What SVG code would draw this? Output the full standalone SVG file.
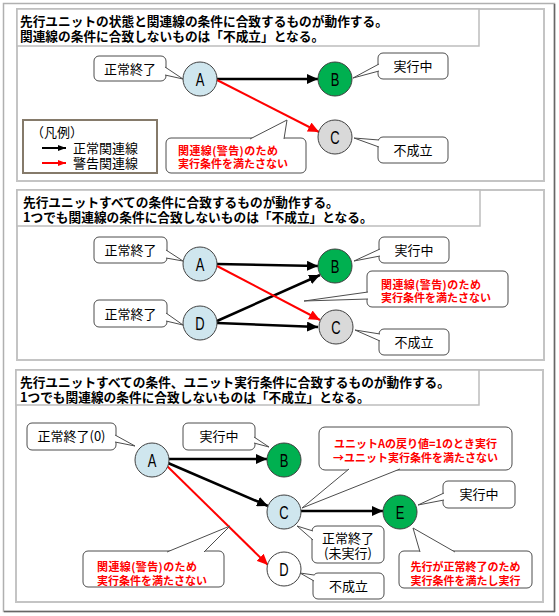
<svg xmlns="http://www.w3.org/2000/svg" width="559" height="616" viewBox="0 0 559 616">
<defs>
<style>
.frame{fill:#fff;stroke:#b0b0b0;stroke-width:1.5}
.panel{fill:#fff;stroke:#c4c4c4;stroke-width:2}
.tbox{fill:#fff;stroke:#bdbdbd;stroke-width:1.5}
.title{font-family:"Noto Sans CJK JP","Noto Sans CJK SC",sans-serif;font-size:12.7px;font-weight:bold;fill:#000}
.co{fill:#fff;stroke:#4d4d4d;stroke-width:1}
.sh{fill:none;stroke:#bbb;stroke-width:1.2}
.ct{font-family:"Noto Sans CJK JP",sans-serif;font-size:13px;fill:#000;text-anchor:middle}
.rt{font-family:"Noto Sans CJK JP",sans-serif;font-size:11px;font-weight:bold;fill:#ff0000}
.nd{stroke:#404040;stroke-width:1}
.blue{fill:#cfe6ee}.green{fill:#00b050}.gray{fill:#d9d9d9}.white{fill:#fff}
.lt{font-family:"Liberation Sans",Arial,sans-serif;font-size:18px;fill:#000;text-anchor:middle}
.blk{stroke:#000;stroke-width:2.5;fill:none}
.red{stroke:#ff0000;stroke-width:2;fill:none}
.lg{fill:#fff;stroke:#857a6a;stroke-width:2}
.lgt{font-family:"Noto Sans CJK JP",sans-serif;font-size:13px;fill:#000}
</style>
<marker id="ab" markerUnits="userSpaceOnUse" markerWidth="12" markerHeight="10" refX="11" refY="5" orient="auto"><path d="M0,0 L11,5 L0,10 z" fill="#000"/></marker>
<marker id="ar" markerUnits="userSpaceOnUse" markerWidth="12" markerHeight="10" refX="11" refY="5" orient="auto"><path d="M0,0 L11,5 L0,10 z" fill="#ff0000"/></marker>
<marker id="abs" markerUnits="userSpaceOnUse" markerWidth="8" markerHeight="6" refX="8" refY="3" orient="auto"><path d="M0,0 L8,3 L0,6 z" fill="#000"/></marker>
<marker id="ars" markerUnits="userSpaceOnUse" markerWidth="8" markerHeight="6" refX="8" refY="3" orient="auto"><path d="M0,0 L8,3 L0,6 z" fill="#ff0000"/></marker>
</defs>

<rect class="frame" x="3.5" y="3.5" width="551" height="608"/>
<line x1="554.5" y1="4" x2="554.5" y2="612" stroke="#666" stroke-width="1.5"/>
<line x1="4" y1="611.5" x2="555" y2="611.5" stroke="#666" stroke-width="1.5"/>

<!-- Panel 1 -->
<g id="panel1">
<rect class="panel" x="17" y="9" width="527" height="172"/>
<rect class="tbox" x="17" y="9" width="462" height="37"/>
<text class="title"><tspan x="20" y="26">先行ユニットの状態と関連線の条件に合致するものが動作する。</tspan><tspan x="20" y="41">関連線の条件に合致しないものは「不成立」となる。</tspan></text>
</g>
<g id="legend1">
<rect class="lg" x="23" y="120" width="134" height="53"/>
<text class="lgt"><tspan x="31" y="137">（凡例）</tspan><tspan x="73" y="153">正常関連線</tspan><tspan x="73" y="168">警告関連線</tspan></text>
<line x1="42" y1="148" x2="66" y2="148" stroke="#000" stroke-width="2" marker-end="url(#abs)"/>
<line x1="42" y1="163" x2="66" y2="163" stroke="#ff0000" stroke-width="2" marker-end="url(#ars)"/>
</g>
<g id="connectors1">
<line class="blk" x1="217" y1="79" x2="318" y2="79" marker-end="url(#ab)"/>
<line class="red" x1="217" y1="80" x2="319" y2="132" marker-end="url(#ar)"/>
</g>
<g id="p1-A"><circle class="nd blue" cx="200" cy="79" r="17"/><text class="lt" transform="translate(200,85.5) scale(0.72,1)">A</text></g>
<g id="p1-B"><circle class="nd green" cx="335" cy="79" r="17"/><text class="lt" transform="translate(335,85.5) scale(0.72,1)">B</text></g>
<g id="p1-C"><circle class="nd gray" cx="335" cy="137" r="17"/><text class="lt" transform="translate(335,143.5) scale(0.72,1)">C</text></g>
<g id="p1-co-A"><rect class="co" x="94" y="56" width="72" height="25" rx="5"/><path class="co" d="M165,67 L183,79 L165,75"/><text class="ct" x="130" y="73.5">正常終了</text></g>
<g id="p1-co-B"><rect class="co" x="378" y="53" width="70" height="26" rx="5"/><path class="co" d="M379,64 L353,78 L379,71"/><text class="ct" x="413" y="71">実行中</text></g>
<g id="p1-co-C"><rect class="co" x="378" y="137" width="70" height="26" rx="5"/><path class="co" d="M379,140 L354,138 L379,147"/><text class="ct" x="413" y="155">不成立</text></g>
<g id="p1-co-red"><rect class="co" x="166" y="138" width="140" height="35" rx="5"/><path class="co" d="M250,139 L287,120 L284,139"/><text class="rt"><tspan x="178" y="155" textLength="100">関連線(警告)のため</tspan><tspan x="178" y="168">実行条件を満たさない</tspan></text></g>

<!-- Panel 2 -->
<g id="panel2">
<rect class="panel" x="17" y="190" width="527" height="170"/>
<rect class="tbox" x="17" y="190" width="463" height="36"/>
<text class="title"><tspan x="23" y="207">先行ユニットすべての条件に合致するものが動作する。</tspan><tspan x="23" y="222">1つでも関連線の条件に合致しないものは「不成立」となる。</tspan></text>
</g>
<g id="connectors2">
<line class="blk" x1="217" y1="264" x2="318" y2="266" marker-end="url(#ab)"/>
<line class="blk" x1="217" y1="321" x2="320" y2="275" marker-end="url(#ab)"/>
<line class="blk" x1="217" y1="323" x2="318" y2="327" marker-end="url(#ab)"/>
<line class="red" x1="217" y1="266" x2="320" y2="320" marker-end="url(#ar)"/>
</g>
<g id="p2-A"><circle class="nd blue" cx="200" cy="264" r="17"/><text class="lt" transform="translate(200,270.5) scale(0.72,1)">A</text></g>
<g id="p2-B"><circle class="nd green" cx="335" cy="266" r="17"/><text class="lt" transform="translate(335,272.5) scale(0.72,1)">B</text></g>
<g id="p2-D"><circle class="nd blue" cx="200" cy="323" r="17"/><text class="lt" transform="translate(200,329.5) scale(0.72,1)">D</text></g>
<g id="p2-C"><circle class="nd gray" cx="336" cy="327" r="17"/><text class="lt" transform="translate(336,333.5) scale(0.72,1)">C</text></g>
<g id="p2-co-A"><rect class="co" x="94" y="237" width="73" height="26" rx="5"/><path class="co" d="M166,250 L183,261 L166,258"/><text class="ct" x="130.5" y="255">正常終了</text></g>
<g id="p2-co-D"><rect class="co" x="94" y="300" width="73" height="27" rx="5"/><path class="co" d="M166,313 L183,325 L166,321"/><text class="ct" x="130.5" y="318.5">正常終了</text></g>
<g id="p2-co-B"><rect class="co" x="379" y="237" width="70" height="26" rx="5"/><path class="co" d="M380,249 L354,261 L380,256"/><text class="ct" x="414" y="255">実行中</text></g>
<g id="p2-co-C"><rect class="co" x="379" y="329" width="70" height="26" rx="5"/><path class="co" d="M380,334 L355,330 L380,341"/><text class="ct" x="414" y="347">不成立</text></g>
<g id="p2-co-red"><rect class="co" x="367" y="271" width="141" height="36" rx="5"/><path class="co" d="M368,292 L304,301 L368,299"/><text class="rt"><tspan x="381" y="289" textLength="100">関連線(警告)のため</tspan><tspan x="381" y="302">実行条件を満たさない</tspan></text></g>

<!-- Panel 3 -->
<g id="panel3">
<rect class="panel" x="16" y="370" width="527" height="232"/>
<rect class="tbox" x="16" y="370" width="463" height="35"/>
<text class="title"><tspan x="20" y="387">先行ユニットすべての条件、ユニット実行条件に合致するものが動作する。</tspan><tspan x="20" y="402">1つでも関連線の条件に合致しないものは「不成立」となる。</tspan></text>
</g>
<g id="connectors3">
<line class="blk" x1="169" y1="459" x2="267" y2="459" marker-end="url(#ab)"/>
<line class="blk" x1="168" y1="463" x2="268" y2="506" marker-end="url(#ab)"/>
<line class="blk" x1="301" y1="511" x2="383" y2="511" marker-end="url(#ab)"/>
<line class="red" x1="167" y1="466" x2="268" y2="565" marker-end="url(#ar)"/>
</g>
<g id="p3-A"><circle class="nd blue" cx="152" cy="460" r="17"/><text class="lt" transform="translate(152,466.5) scale(0.72,1)">A</text></g>
<g id="p3-B"><circle class="nd green" cx="284" cy="460" r="17"/><text class="lt" transform="translate(284,466.5) scale(0.72,1)">B</text></g>
<g id="p3-C"><circle class="nd blue" cx="284" cy="512" r="17"/><text class="lt" transform="translate(284,518.5) scale(0.72,1)">C</text></g>
<g id="p3-E"><circle class="nd green" cx="400" cy="512" r="17"/><text class="lt" transform="translate(400,518.5) scale(0.72,1)">E</text></g>
<g id="p3-D"><circle class="nd white" cx="284" cy="569" r="17"/><text class="lt" transform="translate(284,575.5) scale(0.72,1)">D</text></g>
<g id="p3-co-A"><rect class="co" x="27" y="423" width="89" height="27" rx="5"/><path class="co" d="M115,435 L135,446 L115,442"/><text class="ct" x="71.5" y="441">正常終了(0)</text></g>
<g id="p3-co-B"><rect class="co" x="183" y="423" width="72" height="27" rx="5"/><path class="co" d="M254,437 L269,447 L254,443"/><text class="ct" x="219" y="441">実行中</text></g>
<g id="p3-co-red1"><rect class="co" x="319" y="427" width="193" height="43" rx="6"/><path class="co" d="M349,469 L302,508 L400,469"/><text class="rt" text-anchor="middle"><tspan x="415.5" y="448">ユニットAの戻り値=1のとき実行</tspan><tspan x="415.5" y="462">→ユニット実行条件を満たさない</tspan></text></g>
<g id="p3-co-E"><rect class="co" x="443" y="481" width="72" height="27" rx="5"/><path class="co" d="M444,493 L418,505 L444,500"/><text class="ct" x="479" y="499">実行中</text></g>
<g id="p3-co-C"><rect class="co" x="312" y="526" width="72" height="37" rx="5"/><path class="co" d="M313,531 L297,526 L313,540"/><text class="ct"><tspan x="348" y="543">正常終了</tspan><tspan x="348" y="558">(未実行)</tspan></text></g>
<g id="p3-co-D"><rect class="co" x="313" y="573" width="71" height="26" rx="5"/><path class="co" d="M314,575 L300,573 L314,581"/><text class="ct" x="348.5" y="591">不成立</text></g>
<g id="p3-co-red2"><rect class="co" x="399" y="551" width="133" height="37" rx="5"/><path class="co" d="M420,552 L413,528 L455,552"/><text class="rt" text-anchor="middle"><tspan x="465.5" y="571">先行が正常終了のため</tspan><tspan x="465.5" y="585">実行条件を満たし実行</tspan></text></g>
<g id="p3-co-red3"><rect class="co" x="83" y="551" width="141" height="36" rx="5"/><path class="co" d="M167,552 L230,526 L204,552"/><text class="rt"><tspan x="97" y="571" textLength="100">関連線(警告)のため</tspan><tspan x="97" y="585">実行条件を満たさない</tspan></text></g>
</svg>
